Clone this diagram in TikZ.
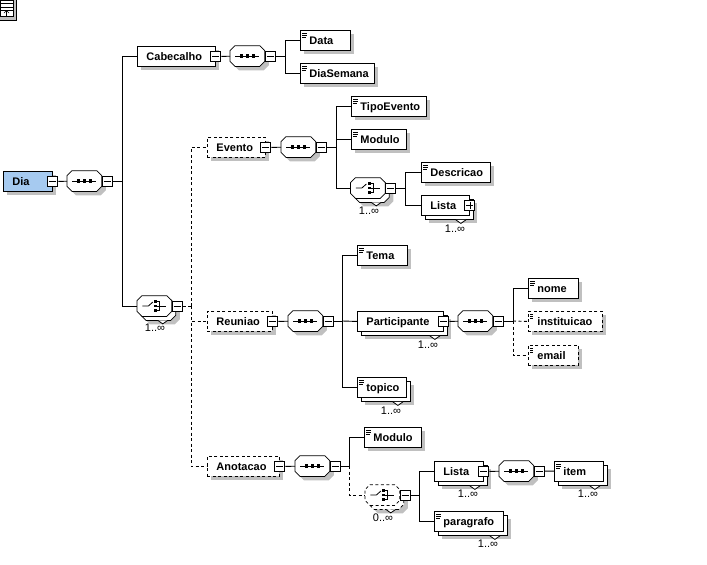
\documentclass[tikz,border=0pt]{standalone}
\usepackage{fontspec}
\setmainfont{Liberation Sans}
\usetikzlibrary{shadows}
\definecolor{rootblue}{RGB}{166,202,240}
\definecolor{shade}{RGB}{192,192,192}
% octagon that stretches with the node
\makeatletter
\pgfdeclareshape{octabox}{
  \inheritsavedanchors[from=rectangle]
  \inheritanchorborder[from=rectangle]
  \inheritanchor[from=rectangle]{center}
  \inheritanchor[from=rectangle]{west}
  \inheritanchor[from=rectangle]{east}
  \inheritanchor[from=rectangle]{north}
  \inheritanchor[from=rectangle]{south}
  \inheritanchor[from=rectangle]{south east}
  \backgroundpath{
    \southwest \edef\octl{\the\pgf@x}\edef\octb{\the\pgf@y}
    \northeast \edef\octr{\the\pgf@x}\edef\octt{\the\pgf@y}
    \pgfpathmoveto{\pgfqpoint{\dimexpr\octl+5pt\relax}{\octb}}
    \pgfpathlineto{\pgfqpoint{\dimexpr\octr-5pt\relax}{\octb}}
    \pgfpathlineto{\pgfqpoint{\octr}{\dimexpr\octb+5pt\relax}}
    \pgfpathlineto{\pgfqpoint{\octr}{\dimexpr\octt-5pt\relax}}
    \pgfpathlineto{\pgfqpoint{\dimexpr\octr-5pt\relax}{\octt}}
    \pgfpathlineto{\pgfqpoint{\dimexpr\octl+5pt\relax}{\octt}}
    \pgfpathlineto{\pgfqpoint{\octl}{\dimexpr\octt-5pt\relax}}
    \pgfpathlineto{\pgfqpoint{\octl}{\dimexpr\octb+5pt\relax}}
    \pgfpathclose
  }
}
\makeatother
\newcommand{\seqicon}{\draw (-12,0) -- (12,0);
  \foreach \dotx in {-6,0,6} \fill [black] (\dotx-1.6,-1.6) rectangle (\dotx+1.6,1.6);}
\newcommand{\choiceicon}{\draw [solid] (-12,0) -- (-6,0) -- (-1.5,-4);
  \foreach \doty in {-4.5,0,4.5} \fill [black] (0,\doty-1.4) rectangle (2.8,\doty+1.4);
  \draw [solid] (2.8,-4.5) -- (5.5,-4.5) -- (5.5,4.5) -- (2.8,4.5);
  \draw [solid] (2.8,0) -- (12,0);}
\newcommand{\notch}[1]{\draw [fill=white, line width=0.8pt] ([shift={(-14,4)}]#1.south east) -- ([shift={(-9,7.5)}]#1.south east) -- ([shift={(-4,4)}]#1.south east);}
\tikzstyle{link} = [line width=0.9pt]
\tikzstyle{optlink} = [line width=0.9pt, dash pattern=on 3pt off 2.5pt]
\tikzstyle{single} = [general shadow={shadow xshift=4pt, shadow yshift=-4pt, fill=shade, draw=none}]
\tikzstyle{stacked} = [general shadow={shadow xshift=8pt, shadow yshift=-8pt, fill=shade, draw=none}, general shadow={shadow xshift=4pt, shadow yshift=-4pt, fill=white, draw=black}]
\tikzstyle{box} = [rectangle, anchor=north west, draw=black, fill=white, line width=0.9pt, minimum height=20pt, inner xsep=0pt, inner ysep=0pt, align=left, text height=9pt, text depth=0pt, font=\fontsize{11}{12}\selectfont\bfseries, execute at begin node={\hspace*{9pt}}]
\tikzstyle{element} = [box, single]
\tikzstyle{elementset} = [box, stacked]
\tikzstyle{optional} = [dash pattern=on 3pt off 2.5pt]
\tikzstyle{doc} = [path picture={\draw [line width=0.6pt] ([shift={(2,2.5)}]path picture bounding box.north west) -- ++(5,0) ([shift={(2,4.5)}]path picture bounding box.north west) -- ++(5,0) ([shift={(2,6.5)}]path picture bounding box.north west) -- ++(3.5,0);}]
\tikzstyle{expander} = [rectangle, draw=black, fill=white, line width=0.9pt, inner sep=0pt, minimum size=10pt, path picture={\draw [line width=0.8pt] ([xshift=1.5pt]path picture bounding box.west) -- ([xshift=-1.5pt]path picture bounding box.east);}]
\tikzstyle{expanderplus} = [rectangle, draw=black, fill=white, line width=0.9pt, inner sep=0pt, minimum size=10pt, path picture={\draw [line width=0.8pt] ([xshift=1.5pt]path picture bounding box.west) -- ([xshift=-1.5pt]path picture bounding box.east) ([yshift=-1.5pt]path picture bounding box.north) -- ([yshift=1.5pt]path picture bounding box.south);}]
\tikzstyle{compositor} = [shape=octabox, draw=black, fill=white, line width=0.75pt, inner sep=0pt, minimum width=34pt, minimum height=20pt, anchor=west]
\tikzstyle{sequence} = [compositor, single, path picture={\begin{scope}[shift={(path picture bounding box.center)}, line width=0.8pt]\seqicon\end{scope}}]
\tikzstyle{choiceset} = [compositor, stacked, path picture={\begin{scope}[shift={(path picture bounding box.center)}, line width=0.8pt]\choiceicon\end{scope}}]
\tikzstyle{occurs} = [inner sep=0pt, font=\fontsize{11}{12}\selectfont]

\begin{document}
\begin{tikzpicture}[x=1pt, y=-1pt]
    \useasboundingbox (0,0) rectangle (707,565);

    % schema button
    \node (button) [rectangle, anchor=north west, draw=black, fill=shade, line width=0.9pt, minimum width=16.5pt, minimum height=20.5pt] at (-1,-1) {};
    \node (buttonPage) [rectangle, anchor=north west, draw=black, fill=white, line width=0.6pt, minimum width=12pt, minimum height=16pt, inner sep=0pt] at (0.5,0) {};
    \draw [line width=0.7pt] (buttonPage.west |- 0,3.5) -- (buttonPage.east |- 0,3.5) (buttonPage.west |- 0,7) -- (buttonPage.east |- 0,7) (buttonPage.west |- 0,10.5) -- (buttonPage.east |- 0,10.5);
    \draw [line width=0.7pt] (6.5,16) -- (6.5,11) (4,13) -- (6.5,10.5) -- (9,13);

    % root
    \node (dia) [element, fill=rootblue, text width=49pt] at (3,171) {Dia};
    \node (diaExp) [expander] at (dia.east) {};
    \node (diaSeq) [sequence] at (67,181) {};
    \node (diaSeqExp) [expander, anchor=west] at (diaSeq.east) {};
    \coordinate (diaTrunk) at (122.5,181);
    \draw [link] (diaExp) -- (diaSeq);
    \draw [link] (diaSeqExp) -- (diaTrunk);

    % Cabecalho
    \node (cabecalho) [element, text width=78pt] at (137,46) {Cabecalho};
    \node (cabecalhoExp) [expander] at (cabecalho.east) {};
    \node (cabecalhoSeq) [sequence] at (230,56) {};
    \node (cabecalhoSeqExp) [expander, anchor=west] at (cabecalhoSeq.east) {};
    \coordinate (cabecalhoTrunk) at (285,56);
    \node (data) [element, doc, text width=50pt] at (300,30) {Data};
    \node (diaSemana) [element, doc, text width=74pt] at (300,63) {DiaSemana};
    \draw [link] (diaTrunk) |- (cabecalho.west);
    \draw [link] (cabecalhoExp) -- (cabecalhoSeq);
    \draw [link] (cabecalhoSeqExp) -- (cabecalhoTrunk);
    \draw [link] (cabecalhoTrunk) |- (data.west);
    \draw [link] (cabecalhoTrunk) |- (diaSemana.west);

    % main choice
    \node (mainChoice) [choiceset] at (137,306) {};
    \node (mainChoiceExp) [expander, anchor=west] at (mainChoice.east) {};
    \node (mainOccurs) [occurs] at (155,328) {1..∞};
    \notch{mainChoice}
    \coordinate (mainTrunk) at (191,306);
    \draw [link] (diaTrunk) |- (mainChoice.west);
    \draw [optlink] (mainChoiceExp) -- (mainTrunk);

    % Evento
    \node (evento) [element, optional, text width=58pt] at (207,137) {Evento};
    \node (eventoExp) [expander] at (evento.east) {};
    \node (eventoSeq) [sequence] at (281,147) {};
    \node (eventoSeqExp) [expander, anchor=west] at (eventoSeq.east) {};
    \coordinate (eventoTrunk) at (336,147);
    \node (tipoEvento) [element, doc, text width=75pt] at (351,96) {TipoEvento};
    \node (modulo) [element, doc, text width=55pt] at (351,129) {Modulo};
    \node (eventoChoice) [choiceset] at (350.5,188) {};
    \node (eventoChoiceExp) [expander, anchor=west] at (eventoChoice.east) {};
    \node (eventoOccurs) [occurs] at (369,211) {1..∞};
    \notch{eventoChoice}
    \coordinate (eventoChoiceTrunk) at (405,188);
    \node (descricao) [element, doc, text width=69pt] at (421,162) {Descricao};
    \node (lista) [elementset, text width=48pt] at (421,195) {Lista};
    \node (listaExp) [expanderplus] at (lista.east) {};
    \node (listaOccurs) [occurs] at (455,229) {1..∞};
    \notch{lista}
    \draw [optlink] (mainTrunk) |- (evento.west);
    \draw [link] (eventoExp) -- (eventoSeq);
    \draw [link] (eventoSeqExp) -- (eventoTrunk);
    \draw [link] (eventoTrunk) |- (tipoEvento.west);
    \draw [link] (eventoTrunk) |- (modulo.west);
    \draw [link] (eventoTrunk) |- (eventoChoice.west);
    \draw [link] (eventoChoiceExp) -- (eventoChoiceTrunk);
    \draw [link] (eventoChoiceTrunk) |- (descricao.west);
    \draw [link] (eventoChoiceTrunk) |- (lista.west);

    % Reuniao
    \node (reuniao) [element, optional, text width=65pt] at (207,311) {Reuniao};
    \node (reuniaoExp) [expander] at (reuniao.east) {};
    \node (reuniaoSeq) [sequence] at (288,321) {};
    \node (reuniaoSeqExp) [expander, anchor=west] at (reuniaoSeq.east) {};
    \coordinate (reuniaoTrunk) at (342.5,321);
    \node (tema) [element, doc, text width=50pt] at (357,245) {Tema};
    \node (participante) [elementset, text width=86pt] at (357,311) {Participante};
    \node (participanteExp) [expander] at (participante.east) {};
    \node (participanteOccurs) [occurs] at (428,345) {1..∞};
    \notch{participante}
    \node (topico) [elementset, doc, text width=49pt] at (357,377) {topico};
    \node (topicoOccurs) [occurs] at (391,411) {1..∞};
    \notch{topico}
    \node (participanteSeq) [sequence] at (458,321) {};
    \node (participanteSeqExp) [expander, anchor=west] at (participanteSeq.east) {};
    \coordinate (participanteTrunk) at (513,321);
    \node (nome) [element, doc, text width=50pt] at (528,278) {nome};
    \node (instituicao) [element, doc, optional, text width=74pt] at (528,311) {instituicao};
    \node (email) [element, doc, optional, text width=50pt] at (528,345) {email};
    \draw [optlink] (mainTrunk) |- (reuniao.west);
    \draw [link] (reuniaoExp) -- (reuniaoSeq);
    \draw [link] (reuniaoSeqExp) -- (reuniaoTrunk);
    \draw [link] (reuniaoTrunk) |- (tema.west);
    \draw [link] (reuniaoTrunk) -- (participante.west);
    \draw [link] (reuniaoTrunk) |- (topico.west);
    \draw [link] (participanteExp) -- (participanteSeq);
    \draw [link] (participanteSeqExp) -- (participanteTrunk);
    \draw [link] (participanteTrunk) |- (nome.west);
    \draw [optlink] (participanteTrunk) -- (instituicao.west);
    \draw [optlink] (participanteTrunk) |- (email.west);

    % Anotacao
    \node (anotacao) [element, optional, text width=72pt] at (207,456) {Anotacao};
    \node (anotacaoExp) [expander] at (anotacao.east) {};
    \node (anotacaoSeq) [sequence] at (295,466) {};
    \node (anotacaoSeqExp) [expander, anchor=west] at (anotacaoSeq.east) {};
    \coordinate (anotacaoTrunk) at (349,466);
    \node (moduloB) [element, doc, text width=57pt] at (364,427) {Modulo};
    \node (anotacaoChoice) [choiceset, optional] at (365,495) {};
    \node (anotacaoChoiceExp) [expander, anchor=west] at (anotacaoChoice.east) {};
    \node (anotacaoOccurs) [occurs] at (383,518) {0..∞};
    \notch{anotacaoChoice}
    \coordinate (anotacaoChoiceTrunk) at (419.5,495);
    \node (listaB) [elementset, text width=49pt] at (434,461) {Lista};
    \node (listaBExp) [expander] at (listaB.east) {};
    \node (listaBOccurs) [occurs] at (468,494) {1..∞};
    \notch{listaB}
    \node (listaBSeq) [sequence] at (499,471) {};
    \node (listaBSeqExp) [expander, anchor=west] at (listaBSeq.east) {};
    \node (item) [elementset, doc, text width=49pt] at (554,461) {item};
    \node (itemOccurs) [occurs] at (588,494) {1..∞};
    \notch{item}
    \node (paragrafo) [elementset, doc, text width=69pt] at (434,511) {paragrafo};
    \node (paragrafoOccurs) [occurs] at (488,544) {1..∞};
    \notch{paragrafo}
    \draw [optlink] (mainTrunk) |- (anotacao.west);
    \draw [link] (anotacaoExp) -- (anotacaoSeq);
    \draw [link] (anotacaoSeqExp) -- (anotacaoTrunk);
    \draw [link] (anotacaoTrunk) |- (moduloB.west);
    \draw [optlink] (anotacaoTrunk) |- (anotacaoChoice.west);
    \draw [link] (anotacaoChoiceExp) -- (anotacaoChoiceTrunk);
    \draw [link] (anotacaoChoiceTrunk) |- (listaB.west);
    \draw [link] (anotacaoChoiceTrunk) |- (paragrafo.west);
    \draw [link] (listaBExp) -- (listaBSeq);
    \draw [link] (listaBSeqExp) -- (item);
\end{tikzpicture}
\end{document}
